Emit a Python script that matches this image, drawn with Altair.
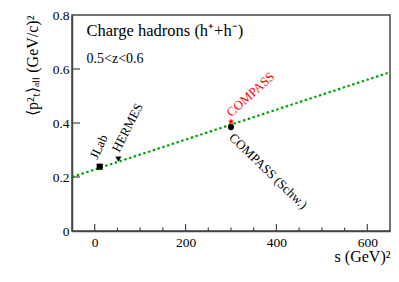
import altair as alt
import pandas as pd

# ---- data ----
exp_names = ["JLab", "HERMES", "COMPASS", "COMPASS (Schw.)"]
exp_s = [11, 52, 300, 300]
exp_pt2 = [0.238, 0.266, 0.405, 0.385]
exp_shapes = ["square", "triangle-down", "M0,-1L0.29,-0.4L0.95,-0.31L0.47,0.15L0.59,0.81L0,0.5L-0.59,0.81L-0.47,0.15L-0.95,-0.31L-0.29,-0.4Z", "circle"]
exp_colors = ["black", "black", "red", "black"]
label_angles = [295, 297, 318, 44]

fit_s = [-50, 650]
fit_pt2 = [0.200, 0.588]

x_major = [0, 200, 400, 600]
x_minor = [50, 100, 150, 250, 300, 350, 450, 500, 550]
y_major = [0.2, 0.4, 0.6]
y_labels = [0, 0.2, 0.4, 0.6, 0.8]

note_text = ["Charge hadrons (h\u207a+h\u207b)", "0.5<z<0.6"]
note_s = [-18, -18]
note_pt2 = [0.742, 0.638]
note_size = [16.5, 14]

W, H = 318, 216
FONT = "Liberation Serif"
AX = "#444444"

xscale = alt.Scale(domain=[-50, 650], nice=False, zero=False)
yscale = alt.Scale(domain=[0, 0.8], nice=False)

exp_df = pd.DataFrame({"name": exp_names, "s": exp_s, "pt2": exp_pt2, "angle": label_angles})
fit_df = pd.DataFrame({"s": fit_s, "pt2": fit_pt2})

xaxis = alt.Axis(values=x_major, ticks=False, grid=False, domainColor=AX,
                 domainWidth=1.5, labelFont=FONT, labelFontSize=13.5,
                 labelColor="black", labelPadding=4, labelFlush=False,
                 title="s  (GeV)\u00b2", titleFont=FONT, titleFontSize=16,
                 titleFontWeight="normal", titleColor="black",
                 titleAnchor="end", titlePadding=0)
yaxis = alt.Axis(values=y_labels, format=".1~f", ticks=False, grid=False,
                 domainColor=AX, domainWidth=1.5, labelFont=FONT,
                 labelFontSize=13.5, labelColor="black", labelPadding=3,
                 labelFlush=False,
                 title="\u27e8p\u00b2\u209c\u27e9\u2090\u2097\u2097  (GeV/c)\u00b2",
                 titleFont=FONT, titleFontSize=16, titleFontWeight="normal",
                 titleColor="black", titleAnchor="end", titlePadding=12)

fit_line = alt.Chart(fit_df).mark_line(
    color="#00a600", strokeWidth=2.2, strokeDash=[2.5, 2.5], clip=True
).encode(
    x=alt.X("s:Q", scale=xscale, axis=xaxis),
    y=alt.Y("pt2:Q", scale=yscale, axis=yaxis),
)

points = alt.Chart(exp_df).mark_point(filled=True, size=38, opacity=1).encode(
    x=alt.X("s:Q", scale=xscale, axis=xaxis),
    y=alt.Y("pt2:Q", scale=yscale, axis=yaxis),
    shape=alt.Shape("name:N", scale=alt.Scale(domain=exp_names, range=exp_shapes), legend=None),
    color=alt.Color("name:N", scale=alt.Scale(domain=exp_names, range=exp_colors), legend=None),
)

label_style = [
    dict(dx=5, dy=-2, baseline="bottom"),
    dict(dx=6, dy=1, baseline="bottom"),
    dict(dx=3, dy=0, baseline="bottom"),
    dict(dx=6, dy=0, baseline="top"),
]
labels = []
for i, nm in enumerate(exp_names):
    st = label_style[i]
    labels.append(
        alt.Chart(exp_df).transform_filter(alt.datum.name == nm).mark_text(
            align="left", baseline=st["baseline"], dx=st["dx"], dy=st["dy"],
            font=FONT, fontSize=13, color=exp_colors[i]
        ).encode(
            x=alt.X("s:Q", scale=xscale, axis=xaxis),
            y=alt.Y("pt2:Q", scale=yscale, axis=yaxis),
            angle=alt.Angle("angle:Q", scale=None),
            text="name:N",
        )
    )

notes_df = pd.DataFrame({"s": note_s, "pt2": note_pt2, "t": note_text, "fs": note_size})
notes = alt.Chart(notes_df).mark_text(
    align="left", baseline="middle", font=FONT, color="black"
).encode(
    x=alt.X("s:Q", scale=xscale, axis=xaxis),
    y=alt.Y("pt2:Q", scale=yscale, axis=yaxis),
    text="t:N",
    size=alt.Size("fs:Q", scale=None, legend=None),
)

xt_major = alt.Chart(pd.DataFrame({"s": x_major})).mark_rule(color=AX, strokeWidth=1.2).encode(
    x=alt.X("s:Q", scale=xscale, axis=xaxis), y=alt.value(H), y2=alt.value(H - 7))
xt_minor = alt.Chart(pd.DataFrame({"s": x_minor})).mark_rule(color=AX, strokeWidth=1.2).encode(
    x=alt.X("s:Q", scale=xscale, axis=xaxis), y=alt.value(H), y2=alt.value(H - 3.5))
yt_major = alt.Chart(pd.DataFrame({"pt2": y_major})).mark_rule(color=AX, strokeWidth=1.2).encode(
    y=alt.Y("pt2:Q", scale=yscale, axis=yaxis), x=alt.value(0), x2=alt.value(8))

chart = alt.layer(fit_line, xt_major, xt_minor, yt_major, points, *labels, notes).properties(
    width=W, height=H,
    autosize=alt.AutoSizeParams(type="none"),
    padding={"left": 64, "top": 7, "right": 1, "bottom": 45},
    background="white",
).configure_view(stroke=AX, strokeWidth=1.5)

chart.save("out.html", embed_options={"renderer": "svg", "actions": False})
